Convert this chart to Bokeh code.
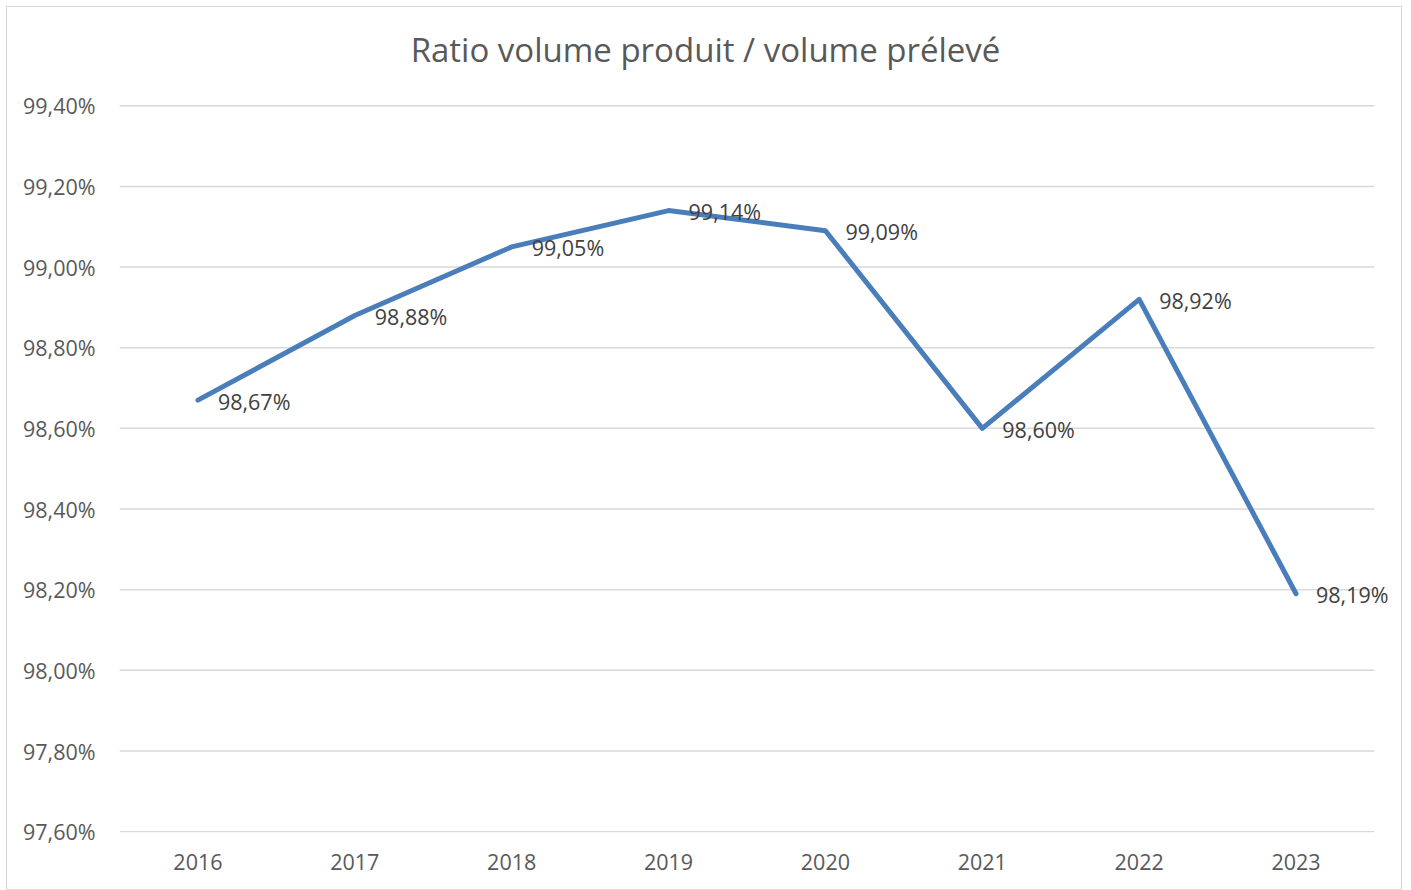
from bokeh.plotting import figure
from bokeh.models import ColumnDataSource, LabelSet, Label, Range1d, FixedTicker
from bokeh.core.properties import value
from bokeh.embed import file_html
from bokeh.resources import INLINE

years = ["2016", "2017", "2018", "2019", "2020", "2021", "2022", "2023"]
ratio = [98.67, 98.88, 99.05, 99.14, 99.09, 98.60, 98.92, 98.19]
y_ticks = [97.6, 97.8, 98.0, 98.2, 98.4, 98.6, 98.8, 99.0, 99.2, 99.4]
y_tick_labels = ["97,60%", "97,80%", "98,00%", "98,20%", "98,40%", "98,60%", "98,80%", "99,00%", "99,20%", "99,40%"]
title_text = "Ratio volume produit / volume prélevé"

idx = list(range(len(years)))
labels = [f"{v:.2f}%".replace(".", ",") for v in ratio]
src = ColumnDataSource(dict(x=idx, y=ratio, t=labels))

FONT = "Open Sans"
FS = "21.5px"
n = len(years)
# frame spans pixel rows 10..831; extra room above 99.40 holds the title
p = figure(width=1396, height=884, x_range=Range1d(-0.5, 7.634),
           y_range=Range1d(97.598, 99.6336), output_backend="svg", toolbar_location=None,
           min_border_left=112, min_border_right=8, min_border_top=4, min_border_bottom=59)
p.margin = (6, 0, 0, 6)
p.styles = {"border": "1px solid #d9d9d9", "box-sizing": "border-box"}
p.outline_line_color = None
p.background_fill_color = "white"
p.border_fill_color = "white"

# horizontal gridlines across the category bands only
p.segment(x0=[-0.5] * len(y_ticks), x1=[n - 0.5] * len(y_ticks), y0=y_ticks, y1=y_ticks,
          line_color="#d9d9d9", line_width=1.5)

p.line("x", "y", source=src, line_color="#4a7ebb", line_width=5, line_cap="round", line_join="round")
p.add_layout(LabelSet(x="x", y="y", text="t", source=src, x_offset=20, y_offset=-1,
                      text_align="left", text_baseline="middle", text_font=value(FONT),
                      text_font_size=value(FS), text_color="#404040"))

p.add_layout(Label(x=3.2355, y=99.5393, text=title_text, text_align="center",
                   text_baseline="alphabetic", text_font=FONT, text_font_size="33px",
                   text_color="#595959"))

p.xgrid.grid_line_color = None
p.ygrid.grid_line_color = None
p.yaxis.ticker = FixedTicker(ticks=y_ticks)
p.yaxis.major_label_overrides = {t: l for t, l in zip(y_ticks, y_tick_labels)}
p.xaxis.ticker = FixedTicker(ticks=idx)
p.xaxis.major_label_overrides = {i: y for i, y in zip(idx, years)}
for ax in (p.xaxis, p.yaxis):
    ax.axis_line_color = None
    ax.major_tick_line_color = None
    ax.minor_tick_line_color = None
    ax.major_label_text_font = FONT
    ax.major_label_text_font_size = FS
    ax.major_label_text_color = "#595959"
p.yaxis.major_label_standoff = 18
p.xaxis.major_label_standoff = 15

open("out.html", "w").write(file_html(p, INLINE))
